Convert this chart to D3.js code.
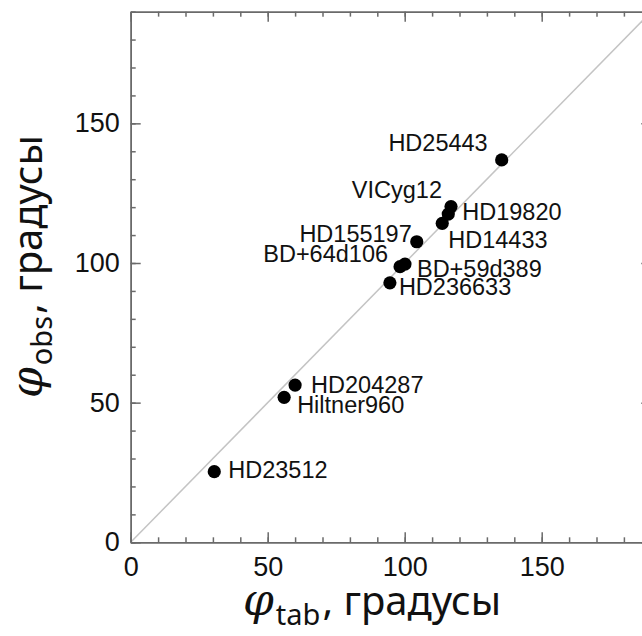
<!DOCTYPE html>
<html>
<head>
<meta charset="utf-8">
<script src="https://cdn.jsdelivr.net/npm/d3@7"></script>
<style>
  body { margin: 0; background: #fff; }
  svg { display: block; }
  .axis path, .axis line { stroke: #6a6a6a; stroke-width: 1.5; }
  .axis text { font-family: "Liberation Sans", Arial, sans-serif; font-size: 27px; fill: #111; }
  .pt-label { font-family: "Liberation Sans", Arial, sans-serif; font-size: 23.5px; fill: #111; }
  .title { font-family: "Noto Sans", "Open Sans", sans-serif; font-size: 40px; fill: #111; }
</style>
</head>
<body>
<svg id="chart" width="642" height="636"></svg>
<script>
// star names and position angles (degrees)
const stars = ['HD25443', 'VICyg12', 'HD19820', 'HD14433', 'HD155197', 'BD+64d106',
               'BD+59d389', 'HD236633', 'HD204287', 'Hiltner960', 'HD23512'];
const phiTab = [135.4, 116.9, 115.9, 113.7, 104.4, 98.3, 100.1, 94.6, 60.0, 56.0, 30.5];
const phiObs = [136.9, 120.2, 117.5, 114.2, 107.6, 98.7, 99.6, 92.9, 56.3, 51.9, 25.3];

const majorTicks = [0, 50, 100, 150];
const minorTicks = d3.range(0, 200, 10);
const domainMax = 190;

// label placement, px relative to the dot
const labelPos = {
    'HD25443':   { dx: -14, dy: -9,  anchor: 'end' },
    'VICyg12':   { dx: -9,  dy: -9,  anchor: 'end' },
    'HD19820':   { dx: 14,  dy: 6,   anchor: 'start' },
    'HD14433':   { dx: 6,   dy: 25,  anchor: 'start' },
    'HD155197':  { dx: -5,  dy: 0,   anchor: 'end' },
    'BD+64d106': { dx: -12, dy: -5,  anchor: 'end' },
    'BD+59d389': { dx: 12,  dy: 13,  anchor: 'start' },
    'HD236633':  { dx: 9,   dy: 12,  anchor: 'start' },
    'HD204287':  { dx: 16,  dy: 8,   anchor: 'start' },
    'Hiltner960':{ dx: 13,  dy: 16,  anchor: 'start' },
    'HD23512':   { dx: 14,  dy: 6,   anchor: 'start' }
};

const svg = d3.select('#chart');
const plotLeft = 130.7, plotBottom = 542.3;

const x = d3.scaleLinear().domain([0, domainMax]).range([plotLeft, plotLeft + domainMax * 2.74]);
const y = d3.scaleLinear().domain([0, domainMax]).range([plotBottom, plotBottom - domainMax * 2.793]);

const plotTop = y(domainMax), plotRight = x(domainMax);

// diagonal
svg.append('line')
    .attr('x1', x(0)).attr('y1', y(0))
    .attr('x2', x(domainMax)).attr('y2', y(domainMax))
    .attr('stroke', '#c4c4c4')
    .attr('stroke-width', 1.5);

// minor ticks on all four sides
const minorAxes = [
    [d3.axisBottom(x), `translate(0,${plotBottom})`],
    [d3.axisTop(x), `translate(0,${plotTop})`],
    [d3.axisLeft(y), `translate(${plotLeft},0)`],
    [d3.axisRight(y), `translate(${plotRight},0)`]
];
minorAxes.forEach(([ax, tr]) => {
    svg.append('g').attr('class', 'axis').attr('transform', tr)
        .call(ax.tickValues(minorTicks).tickSizeInner(-5).tickSizeOuter(0).tickFormat(''));
});

// major ticks with labels on bottom and left
svg.append('g').attr('class', 'axis').attr('transform', `translate(0,${plotBottom})`)
    .call(d3.axisBottom(x).tickValues(majorTicks).tickSizeInner(-10).tickSizeOuter(0).tickPadding(15));
svg.append('g').attr('class', 'axis').attr('transform', `translate(${plotLeft},0)`)
    .call(d3.axisLeft(y).tickValues(majorTicks).tickSizeInner(-10).tickSizeOuter(0).tickPadding(11));
svg.append('g').attr('class', 'axis').attr('transform', `translate(0,${plotTop})`)
    .call(d3.axisTop(x).tickValues(majorTicks).tickSizeInner(-10).tickSizeOuter(0).tickFormat(''));
svg.append('g').attr('class', 'axis').attr('transform', `translate(${plotRight},0)`)
    .call(d3.axisRight(y).tickValues(majorTicks).tickSizeInner(-10).tickSizeOuter(0).tickFormat(''));

// points
const rows = stars.map((s, i) => ({ name: s, tab: phiTab[i], obs: phiObs[i] }));

svg.append('g').selectAll('circle')
    .data(rows)
    .enter()
    .append('circle')
    .attr('cx', d => x(d.tab))
    .attr('cy', d => y(d.obs))
    .attr('r', 6.6)
    .attr('fill', '#000');

svg.append('g').selectAll('text')
    .data(rows)
    .enter()
    .append('text')
    .attr('class', 'pt-label')
    .attr('x', d => x(d.tab) + labelPos[d.name].dx)
    .attr('y', d => y(d.obs) + labelPos[d.name].dy)
    .attr('text-anchor', d => labelPos[d.name].anchor)
    .text(d => d.name);

// axis titles
const phiFont = '"DejaVu Serif", serif';

const addTitle = (sel, sub) => {
    sel.append('tspan').attr('font-family', phiFont).attr('font-style', 'italic').attr('font-size', 44).text('φ');
    sel.append('tspan').attr('font-size', 29).attr('dx', 2).attr('dy', 10).text(sub);
    sel.append('tspan').attr('dy', -10).attr('dx', 2).text(', градусы');
};

addTitle(svg.append('text').attr('class', 'title').attr('x', 243).attr('y', 615), 'tab');
addTitle(svg.append('text').attr('class', 'title').attr('transform', 'translate(42,398) rotate(-90)'), 'obs');
</script>
</body>
</html>
